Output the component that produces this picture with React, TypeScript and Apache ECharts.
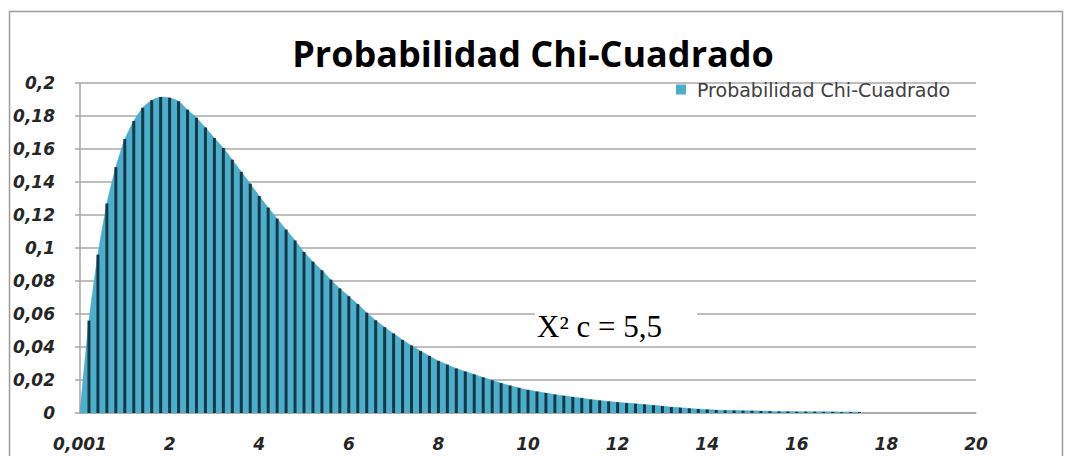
import React, { useEffect, useRef } from "react";
import * as echarts from "echarts";

const chartTitle = "Probabilidad Chi-Cuadrado";
const seriesName = "Probabilidad Chi-Cuadrado";
const annotationText = "X² c = 5,5";

const xCategories = [
  "0,001", "0,2", "0,4", "0,6", "0,8", "1", "1,2", "1,4", "1,6", "1,8",
  "2", "2,2", "2,4", "2,6", "2,8", "3", "3,2", "3,4", "3,6", "3,8",
  "4", "4,2", "4,4", "4,6", "4,8", "5", "5,2", "5,4", "5,6", "5,8",
  "6", "6,2", "6,4", "6,6", "6,8", "7", "7,2", "7,4", "7,6", "7,8",
  "8", "8,2", "8,4", "8,6", "8,8", "9", "9,2", "9,4", "9,6", "9,8",
  "10", "10,2", "10,4", "10,6", "10,8", "11", "11,2", "11,4", "11,6", "11,8",
  "12", "12,2", "12,4", "12,6", "12,8", "13", "13,2", "13,4", "13,6", "13,8",
  "14", "14,2", "14,4", "14,6", "14,8", "15", "15,2", "15,4", "15,6", "15,8",
  "16", "16,2", "16,4", "16,6", "16,8", "17", "17,2", "17,4", "17,6", "17,8",
  "18", "18,2", "18,4", "18,6", "18,8", "19", "19,2", "19,4", "19,6", "19,8",
  "20",
];

const probabilities = [
  0, 0.056, 0.096, 0.127, 0.149, 0.166, 0.177, 0.185, 0.1895, 0.1915,
  0.191, 0.189, 0.1838, 0.179, 0.173, 0.1667, 0.1606, 0.1535, 0.1462, 0.139,
  0.1315, 0.1245, 0.1178, 0.1112, 0.1046, 0.0976, 0.0917, 0.0865, 0.0808, 0.0755,
  0.0708, 0.066, 0.0608, 0.0562, 0.052, 0.0482, 0.0443, 0.0409, 0.0376, 0.0346,
  0.0316, 0.0293, 0.027, 0.0252, 0.0234, 0.0216, 0.0198, 0.0181, 0.0166, 0.0152,
  0.014, 0.013, 0.0121, 0.0112, 0.0104, 0.0097, 0.009, 0.0082, 0.0076, 0.007,
  0.0065, 0.006, 0.0056, 0.0052, 0.0047, 0.0042, 0.0036, 0.0032, 0.0028, 0.0024,
  0.0021, 0.0018, 0.0016, 0.0015, 0.0014, 0.0013, 0.0012, 0.0011, 0.0009, 0.0009,
  0.0008, 0.0008, 0.0008, 0.0007, 0.0007, 0.0006, 0.0006, 0.0006, null, null,
  null, null, null, null, null, null, null, null, null, null,
  null,
];

const yTickLabels = ["0", "0,02", "0,04", "0,06", "0,08", "0,1", "0,12", "0,14", "0,16", "0,18", "0,2"];
const yMin = 0;
const yMax = 0.2;
const yStep = 0.02;

const AREA_COLOR = "#4bafcb";
const DROP_COLOR = "#163846";
const GRID_COLOR = "#a8a8a8";

export default function App() {
  const ref = useRef<HTMLDivElement>(null);

  useEffect(() => {
    document.body.style.margin = "0";
    if (!ref.current) return;
    const chart = echarts.init(ref.current, null, { renderer: "svg" });
    const axisFont = {
      fontFamily: "DejaVu Sans",
      fontWeight: "bold" as const,
      fontStyle: "italic" as const,
      fontSize: 17,
      color: "#262626",
    };
    chart.setOption({
      animation: false,
      backgroundColor: "#ffffff",
      title: {
        text: chartTitle,
        left: "center",
        top: 30,
        textStyle: {
          fontFamily: "Open Sans",
          fontWeight: "bold",
          fontSize: 36,
          color: "#000000",
        },
      },
      legend: {
        data: [{ name: seriesName, icon: "rect", itemStyle: { color: AREA_COLOR } }],
        left: 676,
        top: 80,
        padding: 0,
        itemWidth: 10,
        itemHeight: 10,
        textStyle: {
          fontFamily: "DejaVu Sans",
          fontSize: 19,
          color: "#404040",
          padding: [0, 0, 0, 6],
        },
      },
      grid: { left: 80, top: 83, width: 896, height: 330, containLabel: false },
      xAxis: {
        type: "category",
        data: xCategories,
        boundaryGap: false,
        axisLine: { show: true, lineStyle: { color: GRID_COLOR, width: 1.5 } },
        axisTick: { show: false },
        axisLabel: { interval: 9, margin: 22, ...axisFont },
        splitLine: { show: false },
      },
      yAxis: {
        type: "value",
        min: yMin,
        max: yMax,
        interval: yStep,
        axisLine: { show: true, lineStyle: { color: GRID_COLOR, width: 1.5 } },
        axisTick: { show: true, length: 5, lineStyle: { color: GRID_COLOR, width: 1.5 } },
        axisLabel: {
          margin: 25,
          ...axisFont,
          formatter: (v: number) => yTickLabels[Math.round(v / yStep)] ?? "",
        },
        splitLine: { show: true, lineStyle: { color: GRID_COLOR, width: 1.5 } },
      },
      series: [
        {
          type: "line",
          name: seriesName,
          data: probabilities,
          symbol: "none",
          smooth: 0.2,
          lineStyle: { width: 0.5, color: AREA_COLOR },
          itemStyle: { color: AREA_COLOR },
          areaStyle: { color: AREA_COLOR, opacity: 1 },
          z: 2,
        },
        {
          type: "bar",
          name: "Líneas de proyección",
          data: probabilities,
          barWidth: 3,
          itemStyle: { color: DROP_COLOR },
          z: 3,
          silent: true,
        },
      ],
      graphic: [
        {
          type: "rect",
          shape: { x: 9.5, y: 11.5, width: 1053, height: 470 },
          style: { fill: "none", stroke: "#9c9c9c", lineWidth: 1.5 },
          z: 1,
          silent: true,
        },
        {
          type: "rect",
          shape: { x: 535, y: 304, width: 162, height: 37 },
          style: { fill: "#ffffff" },
          z: 100,
          silent: true,
        },
        {
          type: "text",
          x: 537,
          y: 326,
          style: {
            text: annotationText,
            fontFamily: "Liberation Serif",
            fontSize: 31,
            fill: "#000000",
            verticalAlign: "middle",
          },
          z: 101,
          silent: true,
        },
      ],
    });
    return () => chart.dispose();
  }, []);

  return <div ref={ref} style={{ width: 1066, height: 456 }} />;
}
